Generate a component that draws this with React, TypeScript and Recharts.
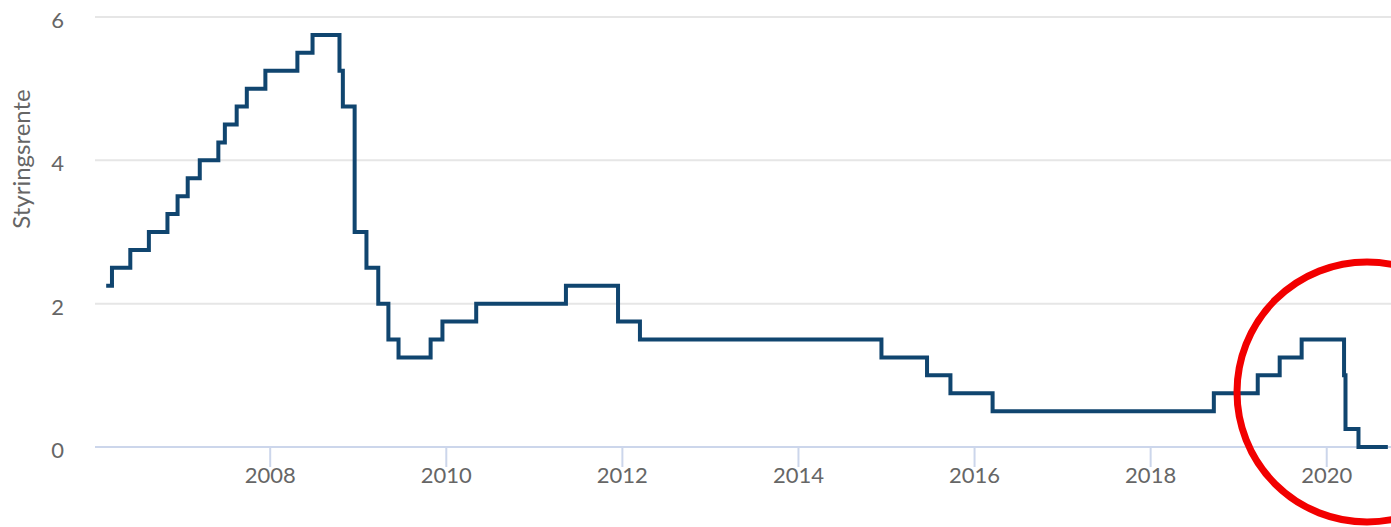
import React from "react";
import { LineChart, Line, XAxis, YAxis, CartesianGrid } from "recharts";

// Styringsrente – datoer for rentevedtak og nivå etter vedtaket
const changeDates = [
  "2006-02-20", "2006-03-16", "2006-05-31", "2006-08-16", "2006-11-01",
  "2006-12-13", "2007-01-24", "2007-03-15", "2007-05-31", "2007-06-27",
  "2007-08-15", "2007-09-26", "2007-12-12", "2008-04-23", "2008-06-25",
  "2008-10-15", "2008-10-29", "2008-12-17", "2009-02-04", "2009-03-25",
  "2009-05-06", "2009-06-17", "2009-10-28", "2009-12-16", "2010-05-05",
  "2011-05-12", "2011-12-14", "2012-03-14", "2014-12-11", "2015-06-18",
  "2015-09-23", "2016-03-16", "2018-09-20", "2019-03-21", "2019-06-20",
  "2019-09-19", "2020-03-13", "2020-03-19", "2020-05-12", "2020-09-11",
];
const rates = [
  2.25, 2.5, 2.75, 3.0, 3.25,
  3.5, 3.75, 4.0, 4.25, 4.5,
  4.75, 5.0, 5.25, 5.5, 5.75,
  5.25, 4.75, 3.0, 2.5, 2.0,
  1.5, 1.25, 1.5, 1.75, 2.0,
  2.25, 1.75, 1.5, 1.25, 1.0,
  0.75, 0.5, 0.75, 1.0, 1.25,
  1.5, 1.0, 0.25, 0.0, 0.0,
];
const yearTicks = [2008, 2010, 2012, 2014, 2016, 2018, 2020];
const rateTicks = [0, 2, 4, 6];

const toYear = (iso: string) => {
  const [y, m, d] = iso.split("-").map(Number);
  const start = Date.UTC(y, 0, 1);
  const end = Date.UTC(y + 1, 0, 1);
  return y + (Date.UTC(y, m - 1, d) - start) / (end - start);
};

const data = changeDates.map((d, i) => ({ t: toYear(d), rate: rates[i] }));

const FONT = "Lato, 'Open Sans', sans-serif";
const LABEL = "#666666";

const XTick = (props: any) => (
  <text
    x={props.x}
    y={props.y}
    dy={14}
    textAnchor="middle"
    fill={LABEL}
    fontSize={22}
    fontFamily={FONT}
  >
    {props.payload.value}
  </text>
);

const YTick = (props: any) => (
  <text
    x={64}
    y={props.y}
    dy={11}
    textAnchor="end"
    fill={LABEL}
    fontSize={22}
    fontFamily={FONT}
  >
    {props.payload.value}
  </text>
);

export default function App() {
  return (
    <div
      style={{
        position: "fixed",
        left: 0,
        top: 0,
        width: 1391,
        height: 527,
        background: "#fff",
        overflow: "hidden",
      }}
    >
      <LineChart
        width={1391}
        height={527}
        data={data}
        margin={{ top: 17, right: 0, left: 0, bottom: 0 }}
      >
        <CartesianGrid vertical={false} stroke="#e6e6e6" strokeWidth={2} />
        {/* x-aksens linje, tegnet under serien */}
        <CartesianGrid
          vertical={false}
          horizontalValues={[0]}
          stroke="#ccd6eb"
          strokeWidth={2}
        />
        <XAxis
          dataKey="t"
          type="number"
          domain={[2006.01, 2020.73]}
          ticks={yearTicks}
          height={80}
          tickSize={20}
          axisLine={false}
          tickLine={{ stroke: "#ccd6eb", strokeWidth: 2 }}
          tick={<XTick />}
        />
        <YAxis
          type="number"
          domain={[0, 6]}
          ticks={rateTicks}
          width={95}
          axisLine={false}
          tickLine={false}
          tick={<YTick />}
        />
        <Line
          type="stepAfter"
          dataKey="rate"
          stroke="#10456f"
          strokeWidth={4}
          dot={false}
          isAnimationActive={false}
        />
      </LineChart>
      <svg
        width={1391}
        height={527}
        style={{ position: "absolute", left: 0, top: 0, pointerEvents: "none" }}
      >
        <text
          x={30}
          y={159}
          textAnchor="middle"
          transform="rotate(-90 30 159)"
          fill={LABEL}
          fontSize={24}
          fontFamily={FONT}
        >
          Styringsrente
        </text>
        <circle cx={1367} cy={392} r={130} fill="none" stroke="#f20000" strokeWidth={7} />
      </svg>
    </div>
  );
}
